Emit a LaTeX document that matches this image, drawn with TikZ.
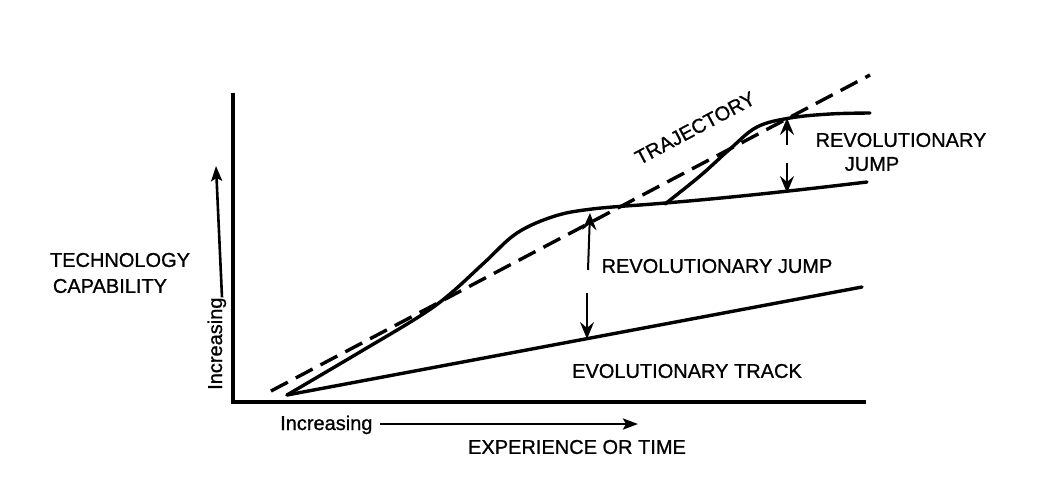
\documentclass[tikz,border=0pt]{standalone}
\usepackage{fontspec}
\setmainfont{Liberation Sans}
\newfontfamily\lblfont{Liberation Sans}[UprightFeatures={FakeBold=0.9}]
\usepackage{tikz}
\usetikzlibrary{arrows.meta,calc}

\tikzset{
  lbl/.style={inner sep=0pt, font=\lblfont\fontsize{20}{22}\selectfont},
  heavy/.style={line width=3.4pt, line cap=round, line join=round},
  jump/.style={line width=2pt, -{Stealth[length=17pt,width=14pt,inset=6pt]}},
  axisarrow/.style={line width=2.6pt, -{Stealth[length=15pt,width=11pt,inset=3pt]}}
}

\begin{document}
\begin{tikzpicture}[x=1pt,y=-1pt]
            \useasboundingbox (0,0) rectangle (1062,498);
            % axes
            \coordinate (Top) at (233,93);
            \coordinate (Origin) at (233,402);
            \coordinate (Right) at (866,402);
            \draw[line width=4pt, line join=miter] (Top) -- (Origin) -- (Right);
            % evolutionary track and plateau
            \coordinate (Start) at (287,395);
            \coordinate (EvoEnd) at (862,287);
            \draw[heavy] (Start) -- (EvoEnd);
            \coordinate (TrajA) at (271,391);
            \coordinate (TrajB) at (870,75);
            \draw[heavy, line cap=butt, dash pattern=on 19pt off 9pt] (TrajA) -- (TrajB);
            % first S-curve and its plateau
            \draw[heavy] plot[smooth, tension=0.6] coordinates {(287,395) (360,352) (420,316) (450,294)
              (485,262) (517,233) (555,216) (592,209) (640,205)};
            \coordinate (PlatA) at (640,205);
            \coordinate (PlatB) at (867,182);
            \draw[heavy] (PlatA) .. controls (720,199) and (800,190) .. (PlatB);
            % second S-curve
            \draw[heavy] plot[smooth, tension=0.6] coordinates {(665,204) (700,176) (730,149)
              (757,127) (790,118) (830,114) (870,113)};
            % jump arrows
            \coordinate (J1a) at (588,270);
            \coordinate (J1b) at (590,213);
            \coordinate (J1c) at (587,293);
            \coordinate (J1d) at (587,339);
            \draw[jump] (J1a) -- (J1b);
            \draw[jump] (J1c) -- (J1d);
            \coordinate (J2a) at (787,145);
            \coordinate (J2b) at (787,118);
            \coordinate (J2c) at (787,163);
            \coordinate (J2d) at (787,193);
            \draw[jump] (J2a) -- (J2b);
            \draw[jump] (J2c) -- (J2d);
            % labels
            \node[lbl, rotate=28] (Traj) at (695,128) {TRAJECTORY};
            \node[lbl] (Rev2a) at (901,140) {REVOLUTIONARY};
            \node[lbl] (Rev2b) at (872,164) {JUMP};
            \node[lbl] (Rev1) at (717,266) {REVOLUTIONARY JUMP};
            \node[lbl] (Evo) at (687,371) {EVOLUTIONARY TRACK};
            \node[lbl] (Tech) at (120,260) {TECHNOLOGY};
            \node[lbl] (Cap) at (110,286) {CAPABILITY};
            \node[lbl] (Exp) at (577,447) {EXPERIENCE OR TIME};
            % increasing arrows
            \node[lbl, anchor=base west] (IncX) at (280,430) {Increasing};
            \coordinate (XArrEnd) at (638,424);
            \draw[axisarrow] ([xshift=7pt]IncX.east |- 0,424) -- (XArrEnd);
            \node[lbl, rotate=90, anchor=base west] (IncY) at (222,390) {Increasing};
            \coordinate (YArrEnd) at (216,166);
            \draw[axisarrow] ([xshift=6pt]IncY.east -| YArrEnd) -- (YArrEnd);
\end{tikzpicture}
\end{document}
